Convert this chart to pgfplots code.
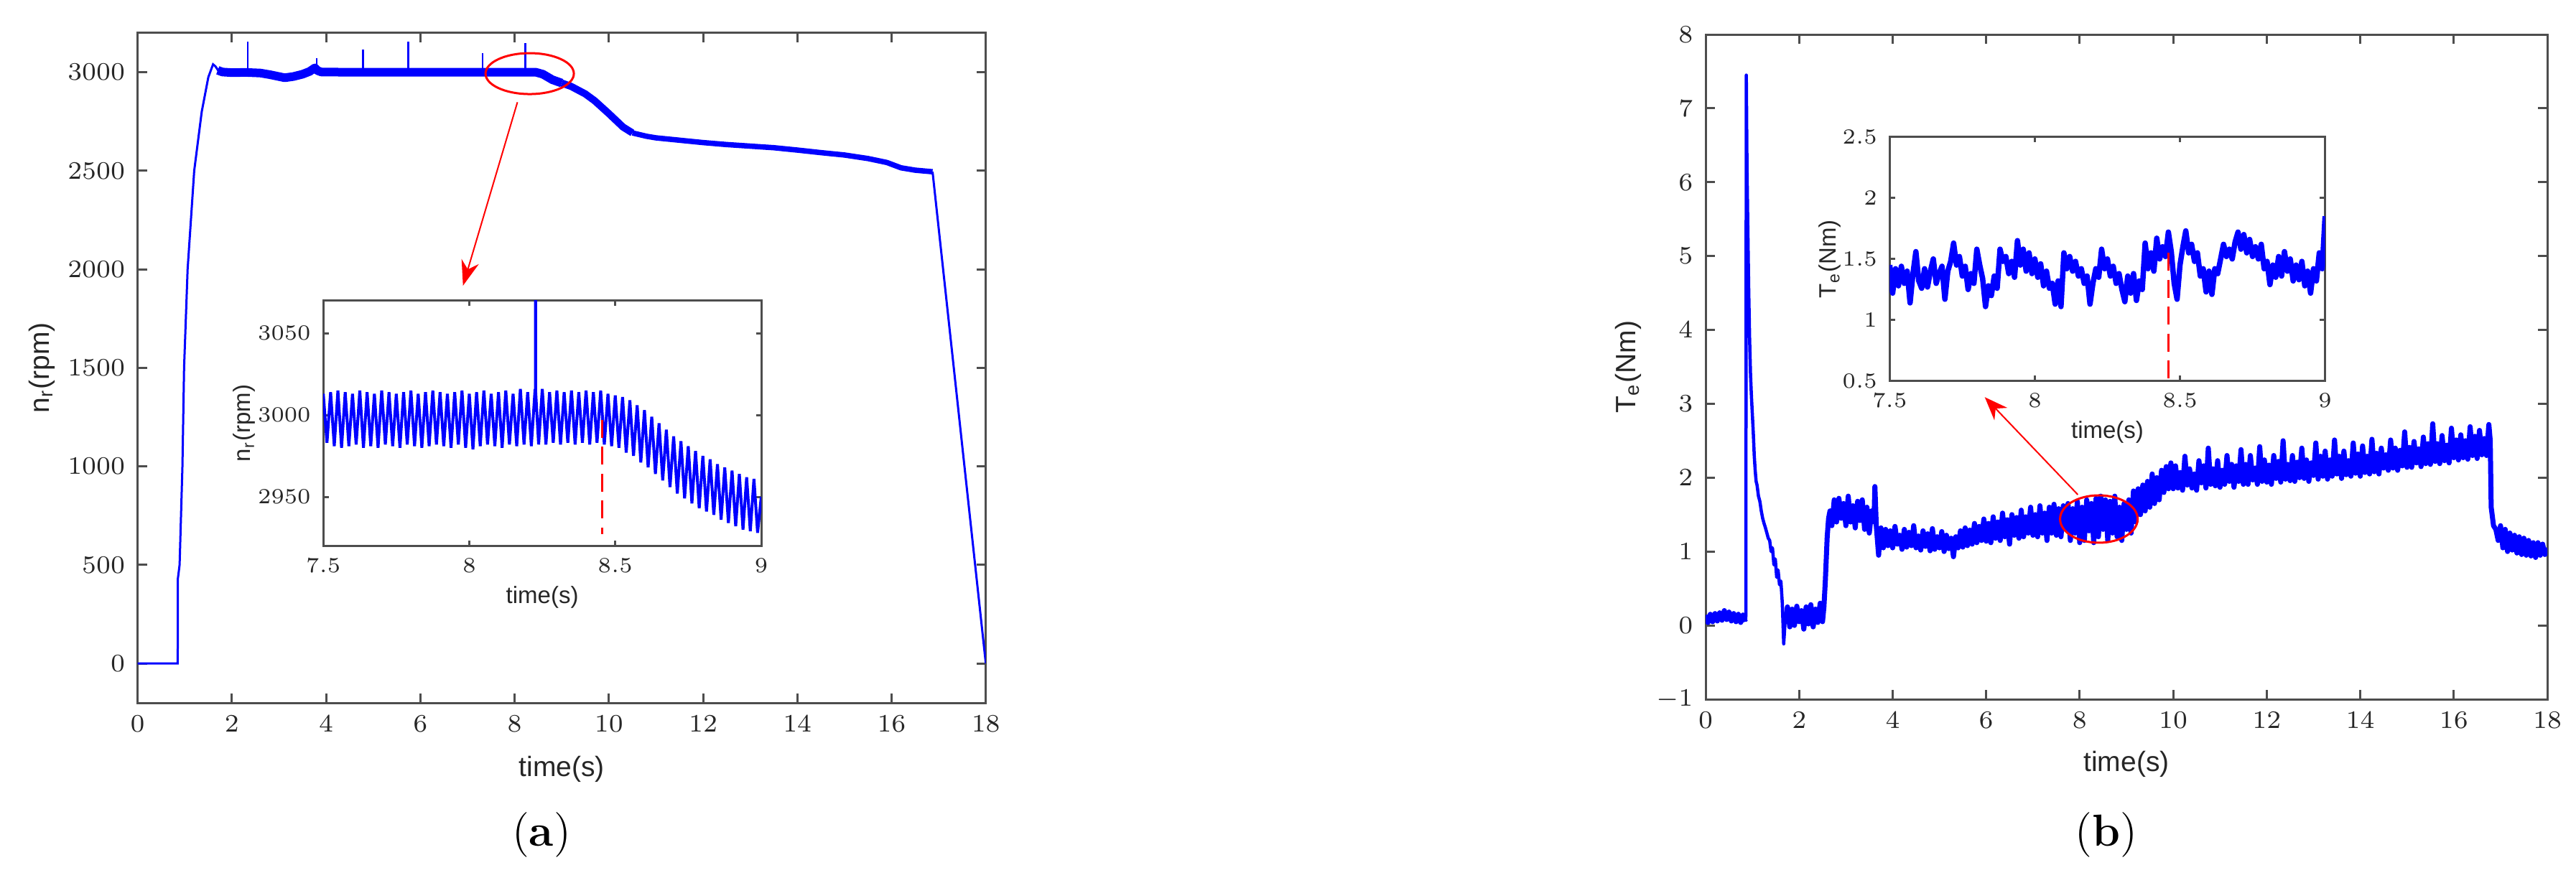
\documentclass[border=0pt]{standalone}
\usepackage{fontspec}
\setsansfont{Liberation Sans}
\usepackage{pgfplots}
\pgfplotsset{compat=1.18}
\usetikzlibrary{arrows.meta}

\definecolor{axgray}{RGB}{77,77,77}
\definecolor{lblgray}{RGB}{38,38,38}

\pgfplotsset{
  mat/.style={
    scale only axis,
    anchor=south west,
    axis line style={axgray, line width=0.6pt},
    tick style={axgray, line width=0.6pt},
    tick align=inside,
    major tick length=2.6pt,
    tick label style={font=\fontsize{7}{8}\selectfont, text=lblgray},
    label style={font=\sffamily\fontsize{7.8}{9}\selectfont, text=lblgray},
    /pgf/number format/1000 sep={},
    scaled ticks=false,
  },
  inset/.style={
    mat,
    major tick length=1.5pt,
    tick label style={font=\fontsize{6}{7}\selectfont, text=lblgray},
    label style={font=\sffamily\fontsize{6.6}{8}\selectfont, text=lblgray},
  },
}

\begin{document}
\begin{tikzpicture}
\useasboundingbox (0,0) rectangle (717.4pt,244.4pt);

% ---------- (a) speed ----------
\begin{axis}[mat, at={(38.34pt,48.6pt)}, width=236.2pt, height=186.66pt,
  xmin=0, xmax=18, ymin=-200, ymax=3200,
  xtick={0,2,...,18}, ytick={0,500,...,3000},
  xlabel={time(s)}, ylabel={n\textsubscript{r}(rpm)},
  xlabel style={at={(axis description cs:0.5,-0.099)}, anchor=center},
  ylabel style={at={(axis description cs:-0.113,0.5)}, anchor=center}]
\addplot[blue, line width=0.6pt] coordinates {
 (0,0) (0.85,0) (0.853,430) (0.89,500) (0.95,1000) (0.985,1500) (1.06,2000)
 (1.2,2500) (1.36,2800) (1.5,2975) (1.6,3040) (1.65,3030) (1.72,3005)};
\addplot[blue, line width=2.4pt, line join=round] coordinates {
 (1.7,3010) (1.8,3001) (2.0,2998) (2.3,2999) (2.6,2996) (2.8,2988) (3.0,2978)
 (3.12,2972) (3.3,2978) (3.5,2990) (3.65,3004) (3.76,3022) (3.82,3008) (3.9,3001)
 (4.5,3000) (5.5,3000) (6.5,3000) (7.5,3000) (8.45,3000) (8.6,2990) (8.8,2962)
 (9.0,2945)};
\addplot[blue, line width=2.0pt, line join=round] coordinates {
 (9.0,2945) (9.2,2928) (9.5,2890) (9.7,2855) (10.0,2790) (10.3,2722) (10.5,2692)};
\addplot[blue, line width=1.5pt, line join=round] coordinates {
 (10.5,2692) (10.8,2675) (11.0,2667) (11.5,2655) (12.0,2643) (12.5,2633) (13.0,2625)
 (13.5,2617) (14.0,2605) (14.5,2592) (15.0,2580) (15.5,2562) (15.9,2542)
 (16.2,2515) (16.5,2503) (16.87,2495)};
\addplot[blue, line width=0.6pt] coordinates {(16.87,2495) (18,0)};
\addplot[blue, line width=0.5pt, unbounded coords=jump] coordinates {
 (2.34,3000) (2.34,3154) (2.34,nan) (3.80,3020) (3.80,3073) (3.80,nan)
 (4.78,3000) (4.78,3115) (4.78,nan) (5.74,3000) (5.74,3154) (5.74,nan)
 (7.32,3000) (7.32,3098) (7.32,nan) (8.23,3000) (8.23,3147)};
\draw[red, line width=0.6pt] (axis cs:8.32,2993) ellipse [x radius=12.3pt, y radius=5.7pt];
\draw[red, line width=0.4pt, -{Stealth[length=7pt, width=5pt]}]
  (axis cs:8.06,2848) -- (axis cs:6.905,1917);
\end{axis}

% ---------- (a) inset ----------
\begin{axis}[inset, at={(90.04pt,92.32pt)}, width=121.96pt, height=68.36pt,
  xmin=7.5, xmax=9, ymin=2920, ymax=3070,
  xtick={7.5,8,8.5,9}, ytick={2950,3000,3050},
  xlabel={time(s)}, ylabel={n\textsubscript{r}(rpm)},
  xlabel style={at={(axis description cs:0.5,-0.21)}, anchor=center},
  ylabel style={at={(axis description cs:-0.18,0.5)}, anchor=center}]
\addplot[blue, line width=0.8pt] coordinates {
 (7.5000,3013) (7.5125,2983) (7.5250,3014) (7.5375,2981) (7.5500,3015) (7.5625,2980)
 (7.5750,3014) (7.5875,2981) (7.6000,3013) (7.6125,2982) (7.6250,3015) (7.6375,2980)
 (7.6500,3014) (7.6625,2981) (7.6750,3013) (7.6875,2980) (7.7000,3015) (7.7125,2982)
 (7.7250,3014) (7.7375,2981) (7.7500,3013) (7.7625,2980) (7.7750,3014) (7.7875,2982)
 (7.8000,3015) (7.8125,2981) (7.8250,3013) (7.8375,2980) (7.8500,3014) (7.8625,2981)
 (7.8750,3015) (7.8875,2982) (7.9000,3014) (7.9125,2981) (7.9250,3013) (7.9375,2980)
 (7.9500,3014) (7.9625,2982) (7.9750,3015) (7.9875,2980) (8.0000,3013) (8.0125,2979)
 (8.0250,3014) (8.0375,2981) (8.0500,3015) (8.0625,2982) (8.0750,3013) (8.0875,2981)
 (8.1000,3014) (8.1125,2980) (8.1250,3015) (8.1375,2982) (8.1500,3013) (8.1625,2981)
 (8.1750,3016) (8.1875,2982) (8.2000,3014) (8.2125,2981) (8.2250,3015)
 (8.2265,3015) (8.2270,3085) (8.2275,3014)
 (8.2375,2982) (8.2500,3016) (8.2625,2982) (8.2750,3014) (8.2875,2983) (8.3000,3015)
 (8.3125,2982) (8.3250,3014) (8.3375,2983) (8.3500,3015) (8.3625,2982) (8.3750,3014)
 (8.3875,2983) (8.4000,3015) (8.4125,2982) (8.4250,3014) (8.4375,2983) (8.4500,3015)
 (8.4625,2982) (8.4750,3013) (8.4875,2981) (8.5000,3012) (8.5125,2980) (8.5250,3011)
 (8.5375,2977) (8.5500,3009) (8.5625,2975) (8.5750,3006) (8.5875,2971) (8.6000,3003)
 (8.6125,2968) (8.6250,2999) (8.6375,2964) (8.6500,2995) (8.6625,2960) (8.6750,2991)
 (8.6875,2956) (8.7000,2987) (8.7125,2952) (8.7250,2984) (8.7375,2949) (8.7500,2981)
 (8.7625,2946) (8.7750,2978) (8.7875,2943) (8.8000,2975) (8.8125,2941) (8.8250,2973)
 (8.8375,2939) (8.8500,2970) (8.8625,2936) (8.8750,2968) (8.8875,2934) (8.9000,2966)
 (8.9125,2932) (8.9250,2964) (8.9375,2930) (8.9500,2962) (8.9625,2929) (8.9750,2961)
 (8.9875,2928) (9.0000,2950)};
\addplot[red, line width=0.6pt, dash pattern=on 5pt off 2.5pt] coordinates {(8.455,2997) (8.455,2927)};
\end{axis}

% ---------- (b) torque ----------
\begin{axis}[mat, at={(475pt,49.6pt)}, width=234.4pt, height=185.2pt,
  xmin=0, xmax=18, ymin=-1, ymax=8,
  xtick={0,2,...,18}, ytick={-1,0,...,8},
  xlabel={time(s)}, ylabel={T\textsubscript{e}(Nm)},
  xlabel style={at={(axis description cs:0.5,-0.098)}, anchor=center},
  ylabel style={at={(axis description cs:-0.092,0.5)}, anchor=center}]
\addplot[blue, line width=1.4pt, line join=round] coordinates {
 (0,0.14) (0.05,0.04) (0.1,0.15) (0.15,0.05) (0.2,0.16) (0.25,0.06) (0.3,0.17)
 (0.35,0.07) (0.4,0.2) (0.45,0.08) (0.5,0.18) (0.55,0.06) (0.6,0.16) (0.65,0.05)
 (0.7,0.15) (0.75,0.04) (0.8,0.14) (0.85,0.05)};
\addplot[blue, line width=0.9pt, line join=round] coordinates {
 (0.85,0.05) (0.86,0.12) (0.87,7.45) (0.885,6.2) (0.9,5.5) (0.92,4.6) (0.94,3.9)
 (0.96,3.4) (0.98,3.1) (1.0,2.85) (1.02,2.6) (1.04,2.3) (1.06,2.1) (1.08,1.95)
 (1.1,1.9) (1.13,1.75) (1.16,1.68) (1.19,1.55) (1.22,1.45) (1.25,1.38) (1.28,1.32)
 (1.31,1.25) (1.34,1.18) (1.37,1.15) (1.4,1.0) (1.43,1.05) (1.46,0.82) (1.49,0.9)
 (1.52,0.65) (1.55,0.75) (1.58,0.55) (1.61,0.6) (1.64,0.3) (1.67,-0.25) (1.7,0.05)};
\addplot[blue, line width=1.4pt, line join=round] coordinates {
 (1.7,0.05) (1.75,0.25) (1.8,-0.02) (1.85,0.22) (1.9,0.0) (1.95,0.26) (2.0,0.05)
 (2.05,0.2) (2.1,-0.05) (2.15,0.25) (2.2,0.02) (2.25,0.28) (2.3,-0.02) (2.35,0.22)
 (2.4,0.04) (2.45,0.3) (2.5,0.05) (2.53,0.25) (2.56,0.6) (2.6,1.2) (2.63,1.45)
 (2.66,1.55) (2.7,1.35) (2.75,1.7) (2.8,1.4) (2.85,1.72) (2.9,1.45) (2.95,1.65)
 (3.0,1.35) (3.05,1.75) (3.1,1.4) (3.15,1.62) (3.2,1.32) (3.25,1.68) (3.3,1.42)
 (3.35,1.7) (3.4,1.3) (3.45,1.6) (3.5,1.25) (3.55,1.55) (3.6,1.4) (3.62,1.88)
 (3.65,1.35) (3.7,0.95) (3.73,1.25) (3.75,1.32) (3.8,1.05) (3.85,1.3) (3.9,1.08)
 (3.95,1.28) (4.0,1.05) (4.05,1.34) (4.1,1.1) (4.15,1.22) (4.2,1.03) (4.25,1.3)
 (4.3,1.06) (4.35,1.26) (4.4,1.08) (4.45,1.35) (4.5,1.05) (4.55,1.21) (4.6,1.02)
 (4.65,1.28) (4.7,1.07) (4.75,1.24) (4.8,1.01) (4.85,1.31) (4.9,1.03) (4.95,1.2)
 (5.0,1.05) (5.05,1.27) (5.1,1.0) (5.15,1.22) (5.2,1.04) (5.25,1.18) (5.3,0.93)
 (5.35,1.2) (5.4,1.05) (5.45,1.28) (5.5,1.06) (5.55,1.32) (5.6,1.08) (5.65,1.29)
 (5.7,1.1) (5.75,1.38) (5.8,1.12) (5.85,1.34) (5.9,1.15) (5.95,1.44) (6.0,1.14)
 (6.05,1.38) (6.1,1.12) (6.15,1.47) (6.2,1.18) (6.25,1.4) (6.3,1.15) (6.35,1.52)
 (6.4,1.2) (6.45,1.43) (6.5,1.1) (6.55,1.5) (6.6,1.22) (6.65,1.46) (6.7,1.18)
 (6.75,1.56) (6.8,1.2) (6.85,1.47) (6.9,1.25) (6.95,1.6) (7.0,1.22) (7.05,1.5)
 (7.1,1.2) (7.15,1.62) (7.2,1.25) (7.25,1.52) (7.3,1.15) (7.35,1.6) (7.4,1.25)
 (7.45,1.64) (7.5,1.22) (7.55,1.58) (7.6,1.2) (7.65,1.62) (7.7,1.3) (7.75,1.65)
 (7.8,1.15) (7.85,1.58) (7.9,1.25) (7.95,1.68) (8.0,1.12) (8.05,1.6) (8.1,1.15)
 (8.15,1.7) (8.2,1.28) (8.25,1.65) (8.3,1.12) (8.35,1.72) (8.4,1.2) (8.45,1.75)
 (8.5,1.3) (8.55,1.7) (8.6,1.15) (8.65,1.68) (8.7,1.25) (8.75,1.75) (8.8,1.2)
 (8.85,1.6) (8.9,1.15) (8.95,1.65) (9.0,1.3) (9.05,1.7) (9.1,1.25) (9.15,1.82)
 (9.2,1.4) (9.25,1.85) (9.3,1.5) (9.35,1.9) (9.4,1.55) (9.45,1.95) (9.5,1.6)
 (9.55,2.05) (9.6,1.65) (9.65,2.0) (9.7,1.7) (9.75,2.1) (9.8,1.8) (9.85,2.15)
 (9.9,1.85) (9.95,2.2) (10.0,1.85)
 (10.05,2.16) (10.10,1.86) (10.15,2.07) (10.20,1.83) (10.25,2.29) (10.30,1.90)
 (10.35,2.12) (10.40,1.86) (10.45,2.05) (10.50,1.83) (10.55,2.23) (10.60,1.93)
 (10.65,2.16) (10.70,1.86) (10.75,2.40) (10.80,1.91) (10.85,2.12) (10.90,1.89)
 (10.95,2.23) (11.00,1.87) (11.05,2.10) (11.10,1.91) (11.15,2.30) (11.20,1.95)
 (11.25,2.18) (11.30,1.87) (11.35,2.16) (11.40,1.95) (11.45,2.38) (11.50,1.91)
 (11.55,2.18) (11.60,1.91) (11.65,2.30) (11.70,1.97) (11.75,2.13) (11.80,1.91)
 (11.85,2.42) (11.90,1.95) (11.95,2.24) (12.00,1.94) (12.05,2.17) (12.10,1.91)
 (12.15,2.30) (12.20,1.99) (12.25,2.22) (12.30,1.94) (12.35,2.50) (12.40,1.98)
 (12.45,2.18) (12.50,1.96) (12.55,2.30) (12.60,1.95) (12.65,2.21) (12.70,2.00)
 (12.75,2.40) (12.80,1.99) (12.85,2.24) (12.90,1.95) (12.95,2.20) (13.00,2.03)
 (13.05,2.47) (13.10,1.98) (13.15,2.29) (13.20,2.02) (13.25,2.36) (13.30,1.98)
 (13.35,2.24) (13.40,2.02) (13.45,2.51) (13.50,2.05) (13.55,2.29) (13.60,1.99)
 (13.65,2.36) (13.70,2.04) (13.75,2.23) (13.80,2.02) (13.85,2.47) (13.90,2.06)
 (13.95,2.32) (14.00,2.02) (14.05,2.43) (14.10,2.07) (14.15,2.29) (14.20,2.05)
 (14.25,2.52) (14.30,2.08) (14.35,2.33) (14.40,2.05) (14.45,2.40) (14.50,2.13)
 (14.55,2.31) (14.60,2.10) (14.65,2.51) (14.70,2.13) (14.75,2.40) (14.80,2.10)
 (14.85,2.37) (14.90,2.16) (14.95,2.62) (15.00,2.14) (15.05,2.41) (15.10,2.14)
 (15.15,2.49) (15.20,2.20) (15.25,2.39) (15.30,2.15) (15.35,2.55) (15.40,2.19)
 (15.45,2.46) (15.50,2.18) (15.55,2.73) (15.60,2.22) (15.65,2.46) (15.70,2.19)
 (15.75,2.57) (15.80,2.23) (15.85,2.44) (15.90,2.20) (15.95,2.67) (16.00,2.27)
 (16.05,2.51) (16.10,2.24) (16.15,2.58) (16.20,2.27) (16.25,2.50) (16.30,2.25)
 (16.35,2.69) (16.40,2.30) (16.45,2.56) (16.50,2.26) (16.55,2.64) (16.60,2.31)
 (16.65,2.53) (16.70,2.30) (16.75,2.72) (16.78,2.50)
 (16.8,1.6) (16.85,1.35) (16.9,1.3) (16.95,1.15) (17.0,1.35)
 (17.05,1.05) (17.1,1.3) (17.15,1.0) (17.2,1.25) (17.25,1.02) (17.3,1.22) (17.35,0.98)
 (17.4,1.2) (17.45,0.96) (17.5,1.18) (17.55,0.95) (17.6,1.15) (17.65,0.94) (17.7,1.12)
 (17.75,0.92) (17.8,1.12) (17.85,0.95) (17.9,1.1) (17.95,0.96) (18.0,1.05)};
\draw[red, line width=0.6pt] (axis cs:8.41,1.44) ellipse [x radius=10.8pt, y radius=6.6pt];
\draw[red, line width=0.4pt, -{Stealth[length=6.5pt, width=5pt]}]
  (axis cs:7.96,1.77) -- (axis cs:5.97,3.09);
\end{axis}

% ---------- (b) inset ----------
\begin{axis}[inset, at={(526.28pt,138.24pt)}, width=121.24pt, height=68.04pt,
  xmin=7.5, xmax=9, ymin=0.5, ymax=2.5,
  xtick={7.5,8,8.5,9}, ytick={0.5,1,1.5,2,2.5},
  xlabel={time(s)}, ylabel={T\textsubscript{e}(Nm)},
  xlabel style={at={(axis description cs:0.5,-0.209)}, anchor=center},
  ylabel style={at={(axis description cs:-0.138,0.5)}, anchor=center}]
\addplot[blue, line width=1.5pt, line join=round] coordinates {
 (7.50,1.45) (7.51,1.22) (7.52,1.42) (7.53,1.28) (7.54,1.44) (7.55,1.30) (7.56,1.40)
 (7.57,1.14) (7.58,1.38) (7.59,1.56) (7.60,1.32) (7.61,1.26) (7.62,1.42) (7.63,1.27)
 (7.64,1.40) (7.65,1.50) (7.66,1.30) (7.67,1.38) (7.68,1.44) (7.69,1.17) (7.70,1.40)
 (7.71,1.48) (7.72,1.63) (7.73,1.45) (7.74,1.52) (7.75,1.36) (7.76,1.44) (7.77,1.25)
 (7.78,1.38) (7.79,1.30) (7.80,1.58) (7.81,1.45) (7.82,1.34) (7.83,1.11) (7.84,1.28)
 (7.85,1.20) (7.86,1.36) (7.87,1.26) (7.88,1.58) (7.89,1.48) (7.90,1.52) (7.91,1.38)
 (7.92,1.48) (7.93,1.35) (7.94,1.65) (7.95,1.45) (7.96,1.58) (7.97,1.40) (7.98,1.55)
 (7.99,1.38) (8.00,1.50) (8.01,1.35) (8.02,1.46) (8.03,1.28) (8.04,1.40) (8.05,1.26)
 (8.06,1.30) (8.07,1.13) (8.08,1.32) (8.09,1.11) (8.10,1.55) (8.11,1.42) (8.12,1.52)
 (8.13,1.40) (8.14,1.48) (8.15,1.36) (8.16,1.42) (8.17,1.30) (8.18,1.36) (8.19,1.13)
 (8.20,1.30) (8.21,1.42) (8.22,1.35) (8.23,1.58) (8.24,1.42) (8.25,1.50) (8.26,1.36)
 (8.27,1.44) (8.28,1.30) (8.29,1.38) (8.30,1.25) (8.31,1.15) (8.32,1.36) (8.33,1.22)
 (8.34,1.38) (8.35,1.16) (8.36,1.32) (8.37,1.25) (8.38,1.63) (8.39,1.42) (8.40,1.55)
 (8.41,1.40) (8.42,1.67) (8.43,1.50) (8.44,1.60) (8.45,1.52) (8.46,1.72) (8.47,1.56)
 (8.48,1.30) (8.49,1.17) (8.50,1.45) (8.51,1.60) (8.52,1.73) (8.53,1.55) (8.54,1.62)
 (8.55,1.48) (8.56,1.55) (8.57,1.36) (8.58,1.42) (8.59,1.23) (8.60,1.40) (8.61,1.21)
 (8.62,1.42) (8.63,1.38) (8.64,1.50) (8.65,1.62) (8.66,1.52) (8.67,1.58) (8.68,1.50)
 (8.69,1.64) (8.70,1.72) (8.71,1.58) (8.72,1.70) (8.73,1.55) (8.74,1.66) (8.75,1.52)
 (8.76,1.60) (8.77,1.50) (8.78,1.62) (8.79,1.42) (8.80,1.48) (8.81,1.29) (8.82,1.45)
 (8.83,1.35) (8.84,1.52) (8.85,1.36) (8.86,1.56) (8.87,1.40) (8.88,1.50) (8.89,1.32)
 (8.90,1.45) (8.91,1.33) (8.92,1.48) (8.93,1.28) (8.94,1.40) (8.95,1.22) (8.96,1.42)
 (8.97,1.32) (8.98,1.55) (8.99,1.42) (9.00,1.85)};
\addplot[red, line width=0.6pt, dash pattern=on 5pt off 2.5pt] coordinates {(8.46,1.55) (8.46,0.5)};
\end{axis}

\node[font=\fontsize{12.5}{14}\selectfont] at (150.8pt,11.8pt) {(\textbf{a})};
\node[font=\fontsize{12.5}{14}\selectfont] at (586.6pt,11.8pt) {(\textbf{b})};
\end{tikzpicture}
\end{document}
